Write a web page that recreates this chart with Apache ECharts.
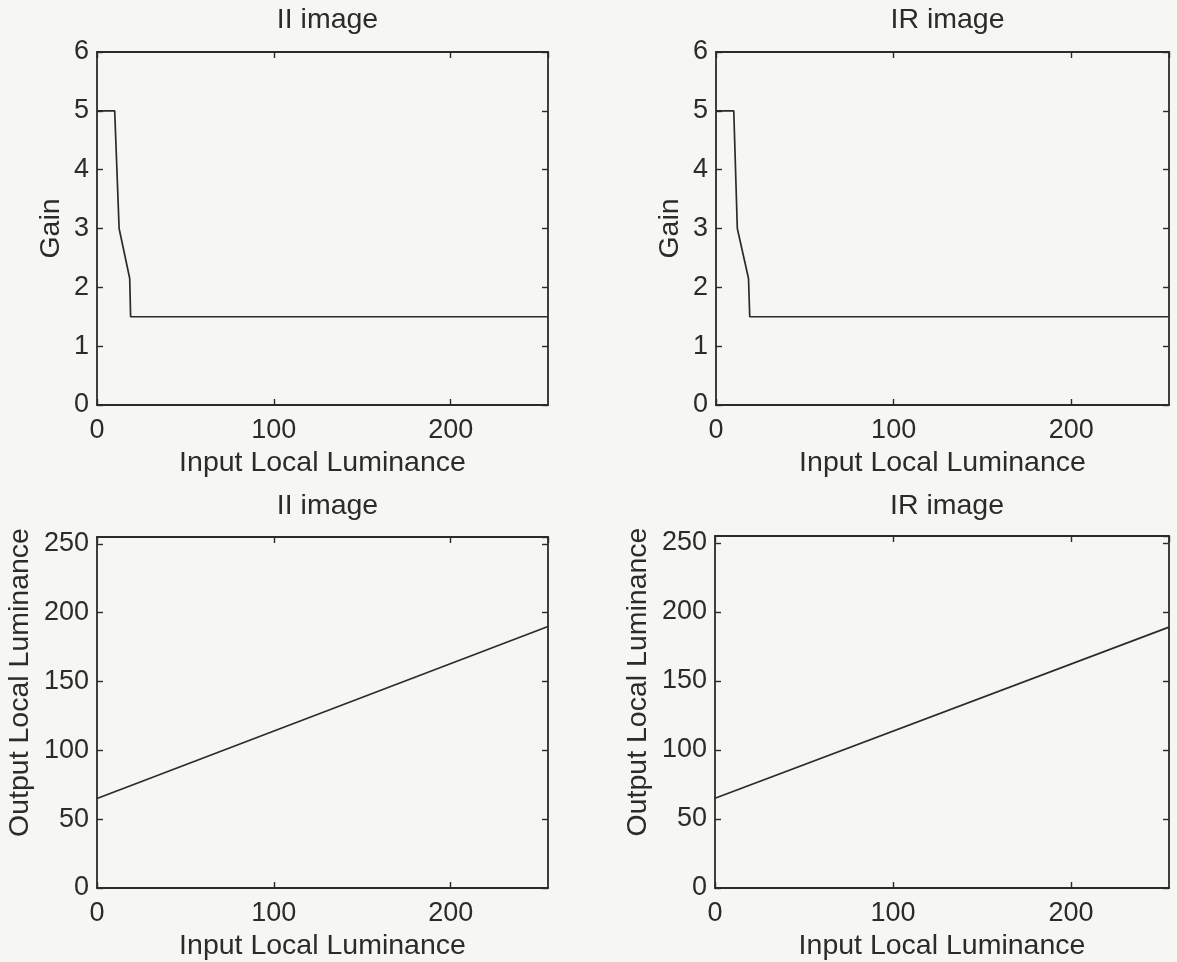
<!DOCTYPE html>
<html>
<head>
<meta charset="utf-8">
<title>Gain and output luminance</title>
<script src="https://cdn.jsdelivr.net/npm/echarts@6/dist/echarts.min.js"></script>
<style>
  html, body { margin: 0; padding: 0; background: #f6f6f2; }
  #chart { width: 1177px; height: 962px; }
</style>
</head>
<body>
<div id="chart"></div>
<script>
// Gain curves (input luminance breakpoints -> gain)
const gainInputII = [0, 10, 12.5, 18.5, 19, 255];
const gainII      = [5, 5, 3, 2.15, 1.5, 1.5];
const gainInputIR = [0, 10, 12, 18.3, 19, 255];
const gainIR      = [5, 5, 3, 2.15, 1.5, 1.5];

// Output local luminance mapping (end points of the straight line)
const outInputII = [0, 255];
const outII      = [65, 190];
const outInputIR = [0, 255];
const outIR      = [65, 189];

// Tick settings
const lumTicks = { min: 0, max: 255, interval: 100 };
const gainTicks = { min: 0, max: 6, interval: 1 };
const outTicks = { min: 0, max: 255, interval: 50 };

const titles = ['II image', 'IR image', 'II image', 'IR image'];
const xName = 'Input Local Luminance';
const yNames = ['Gain', 'Gain', 'Output Local Luminance', 'Output Local Luminance'];

const FONT = '"Liberation Sans", Arial, Helvetica, sans-serif';
const INK = '#2b2b2b';

const grids = [
  { left: 97, top: 52, width: 451, height: 353 },
  { left: 716, top: 52, width: 453, height: 353 },
  { left: 97, top: 537, width: 451, height: 352 },
  { left: 715, top: 536, width: 454, height: 353 }
];

function pairs(xs, ys) { return xs.map((x, i) => [x, ys[i]]); }

const lineStyle = { color: INK, width: 1.7 };
const axisLine = { show: true, onZero: false, lineStyle: { color: INK, width: 1.8 } };
const tick = { show: true, inside: true, length: 6, lineStyle: { color: INK, width: 1.4 } };
const tickFont = { color: INK, fontSize: 27, fontFamily: FONT };
const nameFont = { color: INK, fontSize: 28.5, fontFamily: FONT };

const xAxes = [], yAxes = [], series = [], titleList = [];

grids.forEach((g, k) => {
  const yT = k < 2 ? gainTicks : outTicks;
  // bottom axis with labels
  xAxes.push({
    gridIndex: k, type: 'value', position: 'bottom',
    min: lumTicks.min, max: lumTicks.max, interval: lumTicks.interval,
    axisLine, axisTick: tick, splitLine: { show: false },
    axisLabel: Object.assign({ margin: 12, showMaxLabel: false }, tickFont),
    name: xName, nameLocation: 'middle', nameGap: 44,
    nameTextStyle: nameFont
  });
  // top frame edge
  xAxes.push({
    gridIndex: k, type: 'value', position: 'top',
    min: lumTicks.min, max: lumTicks.max, interval: lumTicks.interval,
    axisLine, axisTick: tick, splitLine: { show: false },
    axisLabel: { show: false }
  });
  // left axis with labels
  yAxes.push({
    gridIndex: k, type: 'value', position: 'left',
    min: yT.min, max: yT.max, interval: yT.interval,
    axisLine, axisTick: tick, splitLine: { show: false },
    axisLabel: Object.assign({ margin: 8, showMaxLabel: k < 2 }, tickFont),
    name: yNames[k], nameLocation: 'middle', nameGap: k < 2 ? 31 : 62,
    nameTextStyle: k < 2 ? nameFont : Object.assign({ padding: [0, 0, 0, 60] }, nameFont)
  });
  // right frame edge
  yAxes.push({
    gridIndex: k, type: 'value', position: 'right',
    min: yT.min, max: yT.max, interval: yT.interval,
    axisLine, axisTick: tick, splitLine: { show: false },
    axisLabel: { show: false }
  });
  titleList.push({
    text: titles[k],
    left: g.left + g.width / 2,
    top: k < 2 ? 1 : 487,
    textAlign: 'center',
    textStyle: { color: INK, fontSize: 28.5, fontWeight: 'normal', fontFamily: FONT }
  });
});

const seriesData = [
  pairs(gainInputII, gainII),
  pairs(gainInputIR, gainIR),
  pairs(outInputII, outII),
  pairs(outInputIR, outIR)
];

seriesData.forEach((d, k) => {
  series.push({
    type: 'line', xAxisIndex: 2 * k, yAxisIndex: 2 * k,
    data: d, showSymbol: false, lineStyle, silent: true
  });
});

const chart = echarts.init(document.getElementById('chart'));
chart.setOption({
  backgroundColor: '#f6f6f2',
  animation: false,
  title: titleList,
  grid: grids,
  xAxis: xAxes,
  yAxis: yAxes,
  series
});
</script>
</body>
</html>
